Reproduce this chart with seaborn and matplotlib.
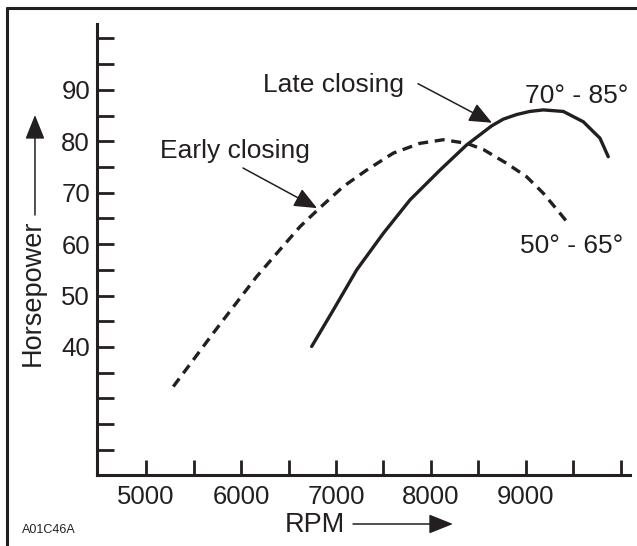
import pandas as pd
import seaborn as sns
import matplotlib.pyplot as plt
from matplotlib.lines import Line2D
from matplotlib.patches import FancyArrowPatch

sns.set_theme(style="ticks")
plt.rcParams['font.family'] = ['Liberation Sans', 'DejaVu Sans']

INK = '#231f20'

# values
early_rpm = [5287, 5498, 5708, 5919, 6165, 6376, 6621, 6832, 7077, 7323,
             7603, 7884, 8129, 8376, 8551, 8797, 9007, 9182, 9358, 9428]
early_hp = [32.3, 37.5, 42.7, 47.8, 53.7, 58.2, 63.4, 67.1, 71.2, 74.4,
            77.7, 79.6, 80.3, 79.6, 78.4, 75.7, 73.1, 69.9, 66.0, 64.4]
late_rpm = [6744, 6972, 7218, 7498, 7779, 8095, 8376, 8639, 8761, 8902,
            9040, 9182, 9393, 9603, 9779, 9866]
late_hp = [40.1, 47.2, 55.0, 62.1, 68.6, 74.4, 79.3, 83.0, 84.3, 85.2,
           85.8, 86.1, 85.8, 83.8, 80.6, 77.0]

rpm_ticks = [5000, 5500, 6000, 6500, 7000, 7500, 8000, 8500, 9000, 9500, 10000]
rpm_labels = ['5000', '', '6000', '', '7000', '', '8000', '', '9000', '', '']
hp_ticks = [20, 25, 30, 35, 40, 45, 50, 55, 60, 65, 70, 75, 80, 85, 90, 95, 100]
hp_labels = ['', '', '', '', '40', '', '50', '', '60', '', '70', '', '80', '', '90', '', '']

df = pd.concat([
    pd.DataFrame({'rpm': early_rpm, 'hp': early_hp, 'timing': 'Early closing'}),
    pd.DataFrame({'rpm': late_rpm, 'hp': late_hp, 'timing': 'Late closing'}),
], ignore_index=True)

fig = plt.figure(figsize=(6.37, 5.46), dpi=100)
ax = fig.add_axes([0.1523, 0.130, 0.8367, 0.826])

sns.lineplot(data=df, x='rpm', y='hp', style='timing', units='timing', estimator=None,
             dashes={'Early closing': (3, 2), 'Late closing': ''},
             color=INK, linewidth=2.4, sort=False, legend=False, ax=ax,
             solid_joinstyle='round', dash_joinstyle='round')

ax.set_xlim(4484, 10095)
ax.set_ylim(15.1, 102.8)
ax.set_xticks(rpm_ticks)
ax.set_xticklabels(rpm_labels)
ax.set_yticks(hp_ticks)
ax.set_yticklabels(hp_labels)
ax.set_xlabel('')
ax.set_ylabel('')
ax.tick_params(axis='both', direction='in', width=2, color=INK,
               labelsize=18.5, labelcolor=INK)
ax.tick_params(axis='y', length=12, pad=5)
ax.tick_params(axis='x', length=11, pad=7)
sns.despine(ax=ax)
for side in ['left', 'bottom']:
    ax.spines[side].set_linewidth(2.2)
    ax.spines[side].set_color(INK)
ax.patch.set_alpha(0)

head = dict(arrowstyle='-|>,head_length=0.7,head_width=0.3', mutation_scale=20,
            lw=1.1, color=INK, shrinkA=0, shrinkB=0)

ax.text(6232, 89.6, 'Late closing', fontsize=19, color=INK, ha='left', va='baseline')
ax.annotate('', xy=(8642, 83.6), xytext=(7863, 91.2), arrowprops=head)
ax.text(5147, 76.8, 'Early closing', fontsize=19, color=INK, ha='left', va='baseline')
ax.annotate('', xy=(6800, 67.0), xytext=(6021, 74.8), arrowprops=head)
ax.text(9532, 87.5, '70° - 85°', fontsize=19, color=INK, ha='center', va='baseline')
ax.text(9479, 58.3, '50° - 65°', fontsize=19, color=INK, ha='center', va='baseline')

# axis titles with arrows
big_head = '-|>,head_length=0.75,head_width=0.3'
fig.text(0.0518, 0.4634, 'Horsepower', rotation=90, fontsize=19.5, color=INK,
         ha='center', va='center')
fig.add_artist(FancyArrowPatch((0.0549, 0.6062), (0.0549, 0.7894), transform=fig.transFigure,
                               arrowstyle=big_head, mutation_scale=20, lw=1.1, color=INK,
                               shrinkA=0, shrinkB=0))
fig.text(0.4945, 0.0385, 'RPM', fontsize=19.5, color=INK, ha='center', va='center')
fig.add_artist(FancyArrowPatch((0.5542, 0.0403), (0.7111, 0.0403), transform=fig.transFigure,
                               arrowstyle=big_head, mutation_scale=20, lw=1.1, color=INK,
                               shrinkA=0, shrinkB=0))

fig.text(0.0345, 0.0293, 'A01C46A', fontsize=9, color=INK, ha='left', va='center')

# frame (top and left edges only)
fig.add_artist(Line2D([0.011, 1.0], [0.9853, 0.9853], transform=fig.transFigure,
                      color=INK, lw=2.2))
fig.add_artist(Line2D([0.011, 0.011], [0.0, 0.9853], transform=fig.transFigure,
                      color=INK, lw=2.2))

fig.savefig('out.png', dpi=100)
